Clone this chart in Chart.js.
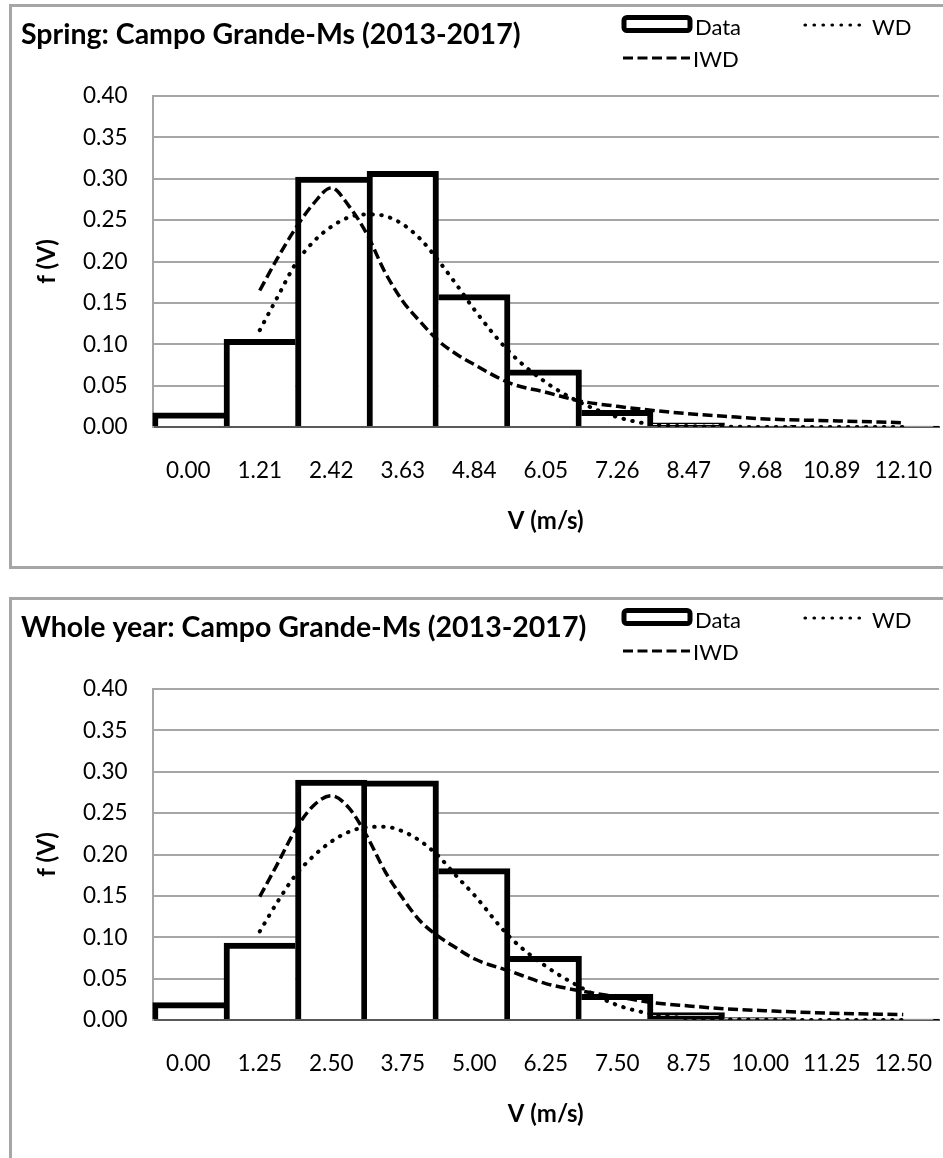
<!DOCTYPE html>
<html>
<head>
<meta charset="utf-8">
<script src="https://cdn.jsdelivr.net/npm/chart.js@4.4.1/dist/chart.umd.min.js"></script>
<style>
  html, body { margin: 0; padding: 0; background: #fff; overflow: hidden; }
  body { width: 943px; height: 1158px; position: relative; }
  .panel { position: absolute; left: 9px; width: 960px; border: 3px solid #a6a6a6; box-sizing: border-box; background: #fff; }
  #p1 { top: 4px; height: 565px; }
  #p2 { top: 597px; height: 600px; }
  canvas { display: block; }
</style>
</head>
<body>
<div class="panel" id="p1"><canvas id="springChart" width="931" height="559"></canvas></div>
<div class="panel" id="p2"><canvas id="yearChart" width="931" height="559"></canvas></div>
<script>
// Spring (2013-2017)
const springLabels = ['0.00', '1.21', '2.42', '3.63', '4.84', '6.05', '7.26', '8.47', '9.68', '10.89', '12.10'];
const springData = [0.017, 0.106, 0.302, 0.309, 0.160, 0.069, 0.020, 0.005, 0.002, 0.001, 0.0005];
const springV = [1.21, 1.51, 1.815, 2.12, 2.42, 2.72, 3.025, 3.33, 3.63, 3.93, 4.235, 4.54, 4.84, 5.445, 6.05, 6.655, 7.26, 7.865, 8.47, 9.075, 9.68, 10.89, 12.10];
const springWD = [0.117, 0.157, 0.197, 0.224, 0.242, 0.2535, 0.257, 0.255, 0.245, 0.227, 0.201, 0.172, 0.142, 0.090, 0.054, 0.029, 0.012, 0.003, 0.001, 0.0005, 0, 0, 0];
const springIWD = [0.165, 0.204, 0.240, 0.270, 0.289, 0.267, 0.233, 0.187, 0.152, 0.127, 0.104, 0.088, 0.0755, 0.053, 0.042, 0.031, 0.025, 0.020, 0.016, 0.013, 0.010, 0.0075, 0.0052];

// Whole year (2013-2017)
const yearLabels = ['0.00', '1.25', '2.50', '3.75', '5.00', '6.25', '7.50', '8.75', '10.00', '11.25', '12.50'];
const yearData = [0.021, 0.093, 0.290, 0.289, 0.183, 0.077, 0.031, 0.009, 0.003, 0.001, 0.0005];
const yearV = [1.25, 1.5625, 1.875, 2.1875, 2.5, 2.8125, 3.125, 3.4375, 3.75, 4.0625, 4.375, 4.6875, 5.0, 5.625, 6.25, 6.875, 7.5, 8.125, 8.75, 9.375, 10.0, 11.25, 12.5];
const yearWD = [0.107, 0.143, 0.175, 0.198, 0.2155, 0.2275, 0.233, 0.2335, 0.228, 0.216, 0.198, 0.174, 0.151, 0.100, 0.065, 0.039, 0.018, 0.007, 0.002, 0.0007, 0.0003, 0, 0];
const yearIWD = [0.149, 0.189, 0.230, 0.259, 0.271, 0.256, 0.222, 0.180, 0.147, 0.119, 0.101, 0.087, 0.074, 0.059, 0.044, 0.035, 0.028, 0.021, 0.017, 0.0135, 0.0115, 0.0082, 0.0065];

const FONT = 'Lato';

// each shared bar edge is drawn once, by the taller bar
function barBorder(ctx) {
  const d = ctx.dataset.data;
  const i = ctx.dataIndex;
  const v = d[i];
  const prev = i > 0 ? d[i - 1] : 0;
  const next = i < d.length - 1 ? d[i + 1] : 0;
  return { top: 6, left: v >= prev ? 6 : 0, right: v > next ? 6 : 0, bottom: v < 0.012 ? 6 : 0 };
}

const cornerLegend = {
  id: 'cornerLegend',
  afterDraw(chart) {
    const ctx = chart.ctx;
    const byLabel = l => chart.data.datasets.find(d => d.label === l);
    const wd = byLabel('WD'), iwd = byLabel('IWD');
    ctx.save();
    ctx.lineWidth = 5;
    ctx.strokeStyle = '#000';
    ctx.fillStyle = '#fff';
    ctx.beginPath();
    ctx.roundRect(612, 10.5, 66, 13, 3);
    ctx.fill();
    ctx.stroke();
    const swatch = (ds, x0, x1, y) => {
      ctx.lineWidth = 3.2;
      ctx.setLineDash(ds.borderDash);
      ctx.lineCap = ds.borderCapStyle || 'butt';
      ctx.beginPath();
      ctx.moveTo(x0, y);
      ctx.lineTo(x1, y);
      ctx.stroke();
    };
    swatch(wd, 793, 855, 18);
    swatch(iwd, 611, 678, 51);
    ctx.setLineDash([]);
    ctx.fillStyle = '#000';
    ctx.font = '22px ' + FONT;
    ctx.textBaseline = 'alphabetic';
    ctx.fillText('Data', 683, 28);
    ctx.fillText(wd.label, 860, 28);
    ctx.fillText(iwd.label, 681, 60);
    ctx.restore();
  }
};

function makeChart(id, title, labels, bars, vs, wd, iwd, step) {
  const pts = ys => vs.map((v, i) => ({ x: v, y: ys[i] }));
  return new Chart(document.getElementById(id), {
    type: 'bar',
    data: {
      labels: labels,
      datasets: [
        {
          label: 'WD', type: 'line', xAxisID: 'xv', data: pts(wd),
          borderColor: '#000', borderWidth: 4, borderDash: [0.5, 8.5], borderCapStyle: 'round',
          pointRadius: 0, fill: false, tension: 0.4, cubicInterpolationMode: 'monotone', order: 1
        },
        {
          label: 'IWD', type: 'line', xAxisID: 'xv', data: pts(iwd),
          borderColor: '#000', borderWidth: 3.5, borderDash: [10, 4.5],
          pointRadius: 0, fill: false, tension: 0.4, cubicInterpolationMode: 'monotone', order: 1
        },
        {
          label: 'Data', data: bars, backgroundColor: '#fff', borderColor: '#000',
          borderWidth: barBorder, borderSkipped: false, grouped: false,
          barPercentage: 1, categoryPercentage: 1, order: 2
        }
      ]
    },
    options: {
      responsive: false,
      animation: false,
      layout: { padding: { left: 9, right: 4, top: 0, bottom: 0 } },
      plugins: {
        legend: { display: false },
        tooltip: { enabled: false },
        title: {
          display: true, text: title, align: 'start', color: '#000',
          font: { family: FONT, size: 28.5, weight: 'bold', lineHeight: 1.2 },
          padding: { top: 11, bottom: 43.8 }
        }
      },
      scales: {
        x: {
          type: 'category', offset: true,
          grid: { display: false, drawTicks: true, tickLength: 26 },
          border: { display: true, color: '#595959', width: 2 },
          ticks: { color: '#000', font: { family: FONT, size: 22.5 }, padding: 4, maxRotation: 0, autoSkip: false },
          title: { display: true, text: 'V (m/s)', color: '#000', font: { family: FONT, size: 24, weight: 'bold' }, padding: { top: 0, bottom: 30 } },
          afterFit: s => { s.height = 139; }
        },
        xv: { type: 'linear', display: false, offset: false, min: -step / 2, max: step * 10.5 },
        y: {
          min: 0, max: 0.4,
          ticks: { stepSize: 0.05, color: '#000', font: { family: FONT, size: 22.5 }, padding: 25, callback: v => v.toFixed(2) },
          grid: { color: c => (c.tick && c.tick.value === 0) ? 'rgba(0,0,0,0)' : '#a6a6a6', lineWidth: 2, drawTicks: false },
          border: { display: true, color: '#a6a6a6', width: 2 },
          title: { display: true, text: 'f (V)', color: '#000', font: { family: FONT, size: 24, weight: 'bold', lineHeight: 2.2 }, padding: 0 },
          afterFit: s => { s.width = 131.5; }
        }
      }
    },
    plugins: [cornerLegend]
  });
}

makeChart('springChart', 'Spring: Campo Grande-Ms (2013-2017)', springLabels, springData, springV, springWD, springIWD, 1.21);
makeChart('yearChart', 'Whole year: Campo Grande-Ms (2013-2017)', yearLabels, yearData, yearV, yearWD, yearIWD, 1.25);
</script>
</body>
</html>
